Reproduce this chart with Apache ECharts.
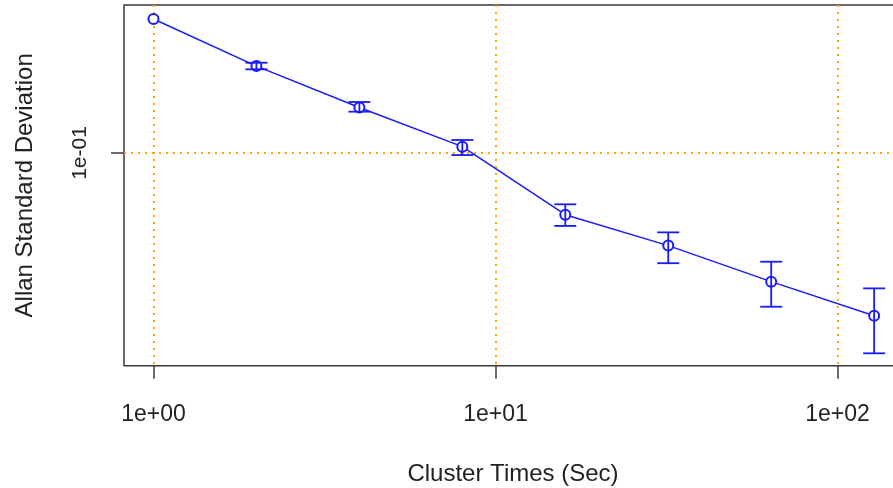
<!DOCTYPE html>
<html>
<head>
<meta charset="utf-8">
<script src="https://cdn.jsdelivr.net/npm/echarts@6/dist/echarts.min.js"></script>
<style>
html,body{margin:0;padding:0;background:#fff;}
#chart{width:893px;height:488px;}
</style>
</head>
<body>
<div id="chart"></div>
<script>
// Cluster times (sec)
const tau = [1, 2, 4, 8, 16, 32, 64, 128];
// Allan standard deviation
const adev = [0.378, 0.237, 0.157, 0.1065, 0.0542, 0.0399, 0.0279, 0.0199];
// error bar bounds
const errLow  = [null, 0.2295, 0.1507, 0.098, 0.0485, 0.0335, 0.02175, 0.0137];
const errHigh = [null, 0.245, 0.1659, 0.1138, 0.0601, 0.0455, 0.034, 0.0261];
// tick values and labels
const xTickValues = [1, 10, 100];
const xTickLabels = ['1e+00', '1e+01', '1e+02'];
const yTickValues = [0.1];
const yTickLabels = ['1e-01'];

const FONT = "'Liberation Sans', Arial, sans-serif";
const BLUE = '#1a1aff';
const ORANGE = '#FFA500';
const AXIS = '#3a3a3a';

const lineData = tau.map((t, i) => [t, adev[i]]);
const errData = tau.map((t, i) => [t, errLow[i], errHigh[i]]);

const chart = echarts.init(document.getElementById('chart'), null, {renderer: 'canvas'});
chart.setOption({
  backgroundColor: '#fff',
  animation: false,
  grid: {
    left: 124, top: 5, width: 778, height: 360.7,
    outerBoundsMode: 'none', containLabel: false,
    show: true, borderColor: AXIS, borderWidth: 1.5, backgroundColor: 'transparent'
  },
  xAxis: {
    type: 'log', logBase: 10, min: 0.8200, max: 154.4,
    name: 'Cluster Times (Sec)', nameLocation: 'middle', nameGap: 97,
    nameTextStyle: {fontFamily: FONT, fontSize: 24, color: '#222'},
    axisLine: {show: false},
    axisTick: {show: true, inside: false, length: 13, customValues: xTickValues,
      lineStyle: {color: AXIS, width: 1.5}},
    axisLabel: {show: true, margin: 37, customValues: xTickValues,
      fontFamily: FONT, fontSize: 23, color: '#222',
      formatter: v => { const i = xTickValues.findIndex(t => Math.abs(t - v) / t < 1e-6); return i >= 0 ? xTickLabels[i] : ''; }},
    splitLine: {show: true, lineStyle: {color: ORANGE, width: 2, type: [2, 5]}},
    minorTick: {show: false}, minorSplitLine: {show: false}
  },
  yAxis: {
    type: 'log', logBase: 10, min: 0.012114, max: 0.4345,
    name: 'Allan Standard Deviation', nameLocation: 'middle', nameGap: 87,
    nameTextStyle: {fontFamily: FONT, fontSize: 24, color: '#222'},
    axisLine: {show: false},
    axisTick: {show: true, inside: false, length: 13, customValues: yTickValues,
      lineStyle: {color: AXIS, width: 1.5}},
    axisLabel: {show: true, margin: 33, rotate: 90, customValues: yTickValues,
      fontFamily: FONT, fontSize: 21, color: '#222',
      formatter: v => { const i = yTickValues.findIndex(t => Math.abs(t - v) / t < 1e-6); return i >= 0 ? yTickLabels[i] : ''; }},
    splitLine: {show: true, lineStyle: {color: ORANGE, width: 2, type: [2, 5]}}
  },
  series: [
    {
      type: 'line', data: lineData, z: 3,
      symbol: 'emptyCircle', symbolSize: 10,
      lineStyle: {color: BLUE, width: 1.5},
      itemStyle: {color: BLUE, borderColor: BLUE, borderWidth: 1.5}
    },
    {
      type: 'custom', z: 4, data: errData,
      encode: {x: 0, y: [1, 2]},
      renderItem: function (params, api) {
        const lo = api.value(1), hi = api.value(2);
        if (lo == null || hi == null || isNaN(lo) || isNaN(hi)) return null;
        const x = api.value(0);
        const pLo = api.coord([x, lo]);
        const pHi = api.coord([x, hi]);
        const hw = 11;
        const st = {stroke: BLUE, lineWidth: 1.8, fill: null};
        return {
          type: 'group',
          children: [
            {type: 'line', shape: {x1: pLo[0], y1: pLo[1], x2: pHi[0], y2: pHi[1]}, style: st},
            {type: 'line', shape: {x1: pLo[0] - hw, y1: pLo[1], x2: pLo[0] + hw, y2: pLo[1]}, style: st},
            {type: 'line', shape: {x1: pHi[0] - hw, y1: pHi[1], x2: pHi[0] + hw, y2: pHi[1]}, style: st}
          ]
        };
      }
    }
  ]
});
</script>
</body>
</html>
